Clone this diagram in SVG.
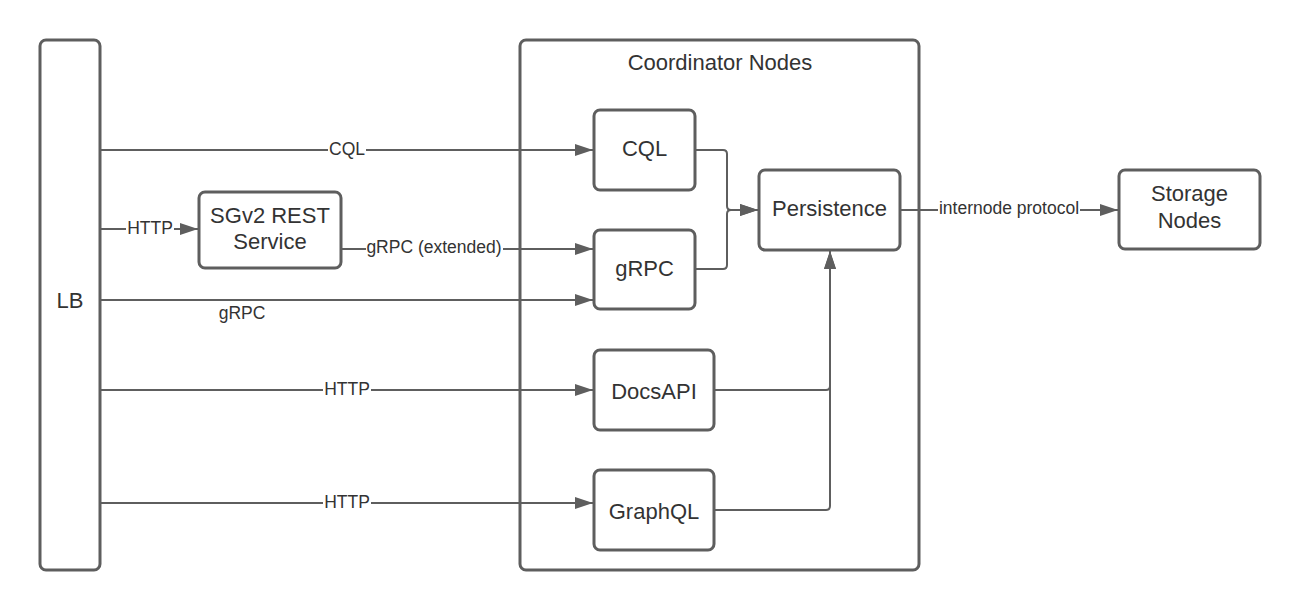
<svg xmlns="http://www.w3.org/2000/svg" width="1300" height="610" viewBox="0 0 1300 610">
<defs>
<marker id="arr" viewBox="0 0 18 12" refX="18" refY="6" markerWidth="18" markerHeight="12" markerUnits="userSpaceOnUse" orient="auto">
<path d="M0,0 L18,6 L0,12 Z" fill="#5e5e5e"/>
</marker>
<style>
.node{fill:#fff;stroke:#5e5e5e;stroke-width:3}
.nt{font-family:"Liberation Sans",Arial,sans-serif;font-size:22px;fill:#333;text-anchor:middle;dominant-baseline:central}
.edge{fill:none;stroke:#5e5e5e;stroke-width:2}
.lbl{font-family:"Liberation Sans",Arial,sans-serif;font-size:17.5px;fill:#333;text-anchor:middle;dominant-baseline:central}
.bg{fill:#fff}
</style>
</defs>
<rect width="1300" height="610" fill="#fff"/>
<g id="coordinator"><rect class="node" x="520" y="40" width="399" height="530" rx="6"/><text class="nt" x="720" y="62">Coordinator Nodes</text></g>
<g id="lb"><rect class="node" x="40" y="40" width="60" height="530" rx="6"/><text class="nt" x="70" y="300">LB</text></g>
<g id="sgv2"><rect class="node" x="199" y="192" width="142" height="76" rx="6"/><text class="nt" x="270" y="215">SGv2 REST</text><text class="nt" x="270" y="241">Service</text></g>
<g id="cql"><rect class="node" x="594" y="110" width="101" height="80" rx="6"/><text class="nt" x="644.5" y="148">CQL</text></g>
<g id="grpc"><rect class="node" x="594" y="230" width="101" height="79" rx="6"/><text class="nt" x="644.5" y="268">gRPC</text></g>
<g id="persistence"><rect class="node" x="759" y="170" width="141" height="80" rx="6"/><text class="nt" x="829.5" y="208">Persistence</text></g>
<g id="docsapi"><rect class="node" x="594" y="350" width="120" height="80" rx="6"/><text class="nt" x="654" y="391">DocsAPI</text></g>
<g id="graphql"><rect class="node" x="594" y="470" width="120" height="80" rx="6"/><text class="nt" x="654" y="511">GraphQL</text></g>
<g id="storage"><rect class="node" x="1119" y="170" width="141" height="79" rx="6"/><text class="nt" x="1189.5" y="193">Storage</text><text class="nt" x="1189.5" y="220">Nodes</text></g>
<g id="connectors">
<path class="edge" d="M101,150 H593" marker-end="url(#arr)"/>
<rect class="bg" x="328" y="140" width="38" height="20"/>
<text class="lbl" x="347" y="149">CQL</text>
<path class="edge" d="M101,229 H198" marker-end="url(#arr)"/>
<rect class="bg" x="126" y="219" width="48" height="20"/>
<text class="lbl" x="150" y="228">HTTP</text>
<path class="edge" d="M342,249 H593" marker-end="url(#arr)"/>
<rect class="bg" x="366" y="237" width="137" height="20"/>
<text class="lbl" x="434" y="247">gRPC (extended)</text>
<path class="edge" d="M101,300 H593" marker-end="url(#arr)"/>
<text class="lbl" x="242" y="313">gRPC</text>
<path class="edge" d="M101,390 H593" marker-end="url(#arr)"/>
<rect class="bg" x="323" y="380" width="48" height="20"/>
<text class="lbl" x="347" y="389">HTTP</text>
<path class="edge" d="M101,503 H593" marker-end="url(#arr)"/>
<rect class="bg" x="323" y="493" width="48" height="20"/>
<text class="lbl" x="347" y="502">HTTP</text>
<path class="edge" d="M696,150 H723 Q727,150 727,154 V206 Q727,210 731,210 H758" marker-end="url(#arr)"/>
<path class="edge" d="M696,269 H723 Q727,269 727,265 V214 Q727,210 731,210 H758" marker-end="url(#arr)"/>
<path class="edge" d="M715,390 H826 Q830,390 830,386 V251" marker-end="url(#arr)"/>
<path class="edge" d="M715,510 H826 Q830,510 830,506 V251" marker-end="url(#arr)"/>
<path class="edge" d="M901,210 H1118" marker-end="url(#arr)"/>
<rect class="bg" x="938" y="200" width="142" height="20"/>
<text class="lbl" x="1009" y="208">internode protocol</text>
</g>
</svg>
